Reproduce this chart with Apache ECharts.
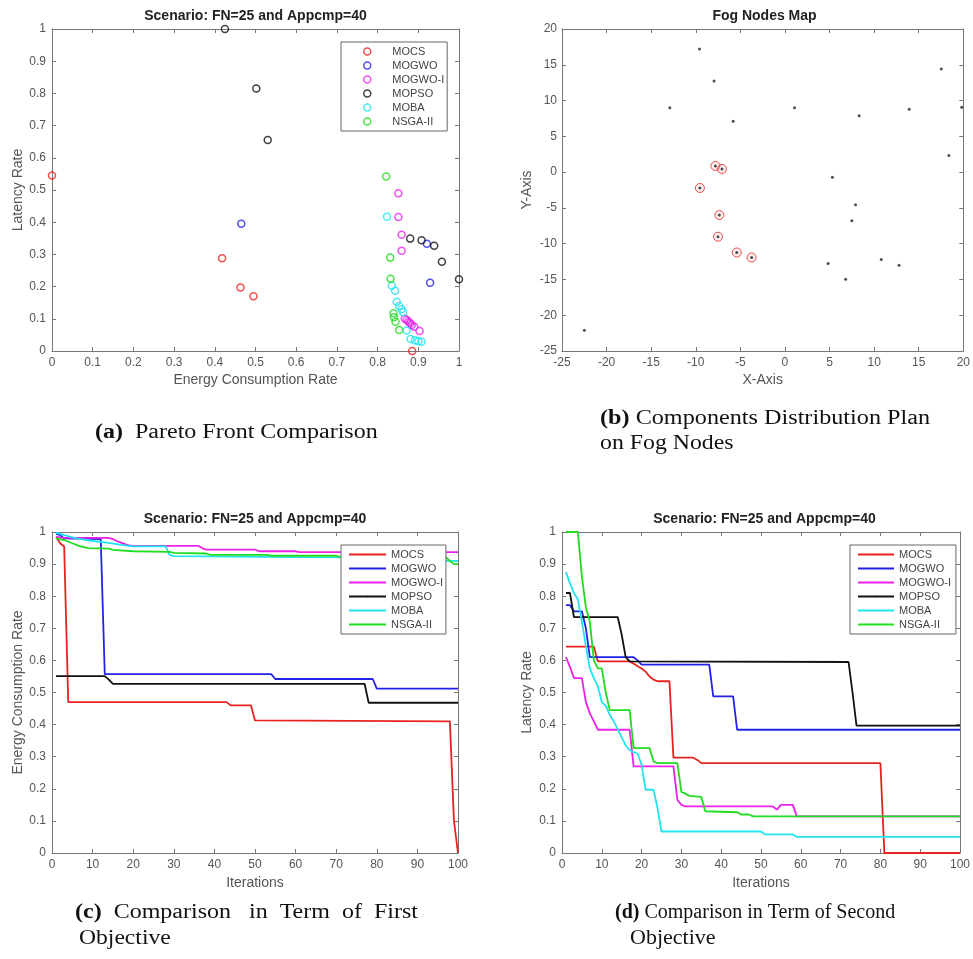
<!DOCTYPE html>
<html><head><meta charset="utf-8">
<script src="https://cdn.jsdelivr.net/npm/echarts@6/dist/echarts.min.js"></script>
<style>html,body{margin:0;padding:0;background:#fff}#c{width:973px;height:959px}</style>
</head><body><div id="c"></div>
<script>
// ---------- data ----------
const algorithms = ['MOCS', 'MOGWO', 'MOGWO-I', 'MOPSO', 'MOBA', 'NSGA-II'];
const algColors = ['#e8231f', '#2323e8', '#ec22ec', '#111111', '#22e4ee', '#22dc22'];

// (a) Pareto fronts: [energy consumption rate, latency rate]
const paretoMOCS = [[0, 0.545], [0.418, 0.288], [0.463, 0.197], [0.495, 0.170], [0.885, 0.0]];
const paretoMOGWO = [[0.465, 0.395], [0.921, 0.333], [0.929, 0.212]];
const paretoMOGWOI = [[0.851, 0.490], [0.851, 0.416], [0.859, 0.361], [0.859, 0.311], [0.867, 0.100], [0.872, 0.096],
  [0.876, 0.091], [0.880, 0.086], [0.884, 0.081], [0.890, 0.075], [0.903, 0.062]];
const paretoMOPSO = [[0.425, 1.0], [0.502, 0.815], [0.530, 0.655], [0.880, 0.349], [0.908, 0.344], [0.939, 0.327],
  [0.958, 0.277], [1.0, 0.223]];
const paretoMOBA = [[0.823, 0.417], [0.835, 0.203], [0.843, 0.187], [0.847, 0.153], [0.853, 0.140], [0.859, 0.130],
  [0.863, 0.120], [0.871, 0.064], [0.881, 0.037], [0.892, 0.033], [0.900, 0.030], [0.908, 0.029]];
const paretoNSGA = [[0.821, 0.542], [0.831, 0.290], [0.832, 0.224], [0.839, 0.117], [0.840, 0.105], [0.844, 0.091], [0.853, 0.065]];

// (b) fog nodes map
const fogX = [-9.58, -7.95, -12.91, -5.81, 1.07, 8.32, 13.94, 17.53, 19.82, 18.38, 5.32, 7.91, 7.50, 4.84, 6.80, 10.80, 12.79, -22.49,
  -7.80, -7.06, -9.54, -7.36, -7.51, -5.40, -3.74];
const fogY = [17.2, 12.72, 8.98, 7.12, 8.98, 7.86, 8.80, 14.40, 9.08, 2.31, -0.73, -4.55, -6.79, -12.77, -14.96, -12.21, -13.0, -22.1,
  0.86, 0.44, -2.22, -6.0, -9.03, -11.23, -11.93];
const placedX = [-7.80, -7.06, -9.54, -7.36, -7.51, -5.40, -3.74];
const placedY = [0.86, 0.44, -2.22, -6.0, -9.03, -11.23, -11.93];

// (c) energy consumption rate per iteration (polyline vertices [iteration, value])
const energyMOCS = [[1, 0.985], [2, 0.965], [3, 0.955], [4, 0.47], [43, 0.47], [44, 0.46], [49, 0.46], [50, 0.413], [98, 0.41], [99, 0.1], [100, 0]];
const energyMOGWO = [[1, 0.995], [2, 0.99], [3, 0.98], [12, 0.978], [13, 0.557], [54, 0.557], [55, 0.542], [79, 0.542], [80, 0.512], [100, 0.512]];
const energyMOGWOI = [[1, 0.985], [3, 0.982], [14, 0.982], [15, 0.978], [16, 0.972], [17, 0.967], [18, 0.962], [19, 0.958], [20, 0.957],
  [36, 0.957], [37, 0.95], [38, 0.945], [50, 0.945], [51, 0.94], [60, 0.94], [61, 0.937], [100, 0.937]];
const energyMOPSO = [[1, 0.551], [13, 0.551], [14, 0.54], [15, 0.527], [77, 0.527], [78, 0.468], [100, 0.468]];
const energyMOBA = [[1, 0.998], [3, 0.99], [6, 0.98], [10, 0.972], [14, 0.966], [17, 0.96], [20, 0.955], [28, 0.955], [29, 0.928],
  [30, 0.925], [60, 0.922], [96, 0.92], [97, 0.91], [100, 0.91]];
const energyNSGA = [[1, 0.98], [3, 0.975], [5, 0.965], [7, 0.955], [9, 0.95], [14, 0.948], [15, 0.944], [20, 0.94], [29, 0.938],
  [30, 0.935], [38, 0.933], [39, 0.929], [53, 0.929], [54, 0.926], [70, 0.926], [71, 0.922], [97, 0.922], [98, 0.91], [99, 0.9], [100, 0.9]];

// (d) latency rate per iteration (polyline vertices [iteration, value])
const latencyMOCS = [[1, 0.643], [8, 0.643], [9, 0.597], [17, 0.597], [18, 0.59], [19, 0.582], [20, 0.575], [21, 0.565], [22, 0.55],
  [23, 0.54], [24, 0.535], [27, 0.535], [28, 0.297], [33, 0.297], [34, 0.29], [35, 0.28], [80, 0.28], [81, 0], [100, 0]];
const latencyMOGWO = [[1, 0.772], [2, 0.772], [3, 0.753], [5, 0.753], [6, 0.7], [7, 0.61], [18, 0.61], [19, 0.6], [20, 0.587],
  [37, 0.587], [38, 0.488], [43, 0.488], [44, 0.384], [100, 0.384]];
const latencyMOGWOI = [[1, 0.61], [2, 0.58], [3, 0.545], [5, 0.545], [6, 0.47], [7, 0.435], [8, 0.41], [9, 0.384], [17, 0.384],
  [18, 0.27], [28, 0.27], [29, 0.165], [30, 0.15], [31, 0.145], [53, 0.145], [54, 0.135], [55, 0.15], [58, 0.15], [59, 0.114], [100, 0.114]];
const latencyMOPSO = [[1, 0.81], [2, 0.81], [3, 0.735], [14, 0.735], [15, 0.68], [16, 0.61], [17, 0.597], [72, 0.595], [73, 0.5],
  [74, 0.397], [100, 0.397]];
const latencyMOBA = [[1, 0.875], [2, 0.84], [3, 0.81], [4, 0.79], [5, 0.72], [6, 0.645], [7, 0.575], [8, 0.545], [9, 0.52], [10, 0.47],
  [11, 0.458], [12, 0.43], [13, 0.41], [14, 0.385], [15, 0.36], [16, 0.335], [17, 0.32], [18, 0.314], [19, 0.31], [20, 0.275],
  [21, 0.197], [23, 0.197], [24, 0.14], [25, 0.067], [50, 0.067], [51, 0.058], [58, 0.058], [59, 0.05], [100, 0.05]];
const latencyNSGA = [[1, 1], [4, 1], [5, 0.86], [6, 0.765], [7, 0.72], [8, 0.6], [9, 0.575], [10, 0.575], [11, 0.5], [12, 0.445],
  [17, 0.445], [18, 0.327], [22, 0.327], [23, 0.285], [24, 0.28], [29, 0.28], [30, 0.19], [31, 0.185], [32, 0.178], [35, 0.175],
  [36, 0.13], [44, 0.127], [45, 0.12], [47, 0.12], [48, 0.114], [100, 0.114]];

// axis ranges [min, max, interval]
const rateRange = [0, 1, 0.1];
const mapRange = [-25, 20, 5];
const iterRange = [0, 100, 10];

// ---------- chart ----------
const FONT = '"Liberation Sans", Arial, Helvetica, sans-serif';
const SERIF = '"Liberation Serif", "Times New Roman", serif';
const AX = '#777';

const grids = [
  { left: 52, top: 29, width: 407, height: 322 },
  { left: 562, top: 29, width: 405, height: 322 },
  { left: 52, top: 532, width: 406, height: 321 },
  { left: 562, top: 532, width: 405, height: 321 }
];

function mainAxis(gi, r, name, gap, pos, margin) {
  return {
    type: 'value', gridIndex: gi, position: pos, min: r[0], max: r[1], interval: r[2],
    name: name, nameLocation: 'middle', nameGap: gap,
    nameTextStyle: { fontFamily: FONT, fontSize: 14, color: '#555' },
    axisLine: { show: true, onZero: false, lineStyle: { color: AX, width: 1 } },
    axisTick: { show: true, inside: true, length: 4, lineStyle: { color: AX } },
    axisLabel: { show: true, margin: margin, fontFamily: FONT, fontSize: 12, color: '#555' },
    splitLine: { show: false }
  };
}
function mirrorAxis(gi, r, pos) {
  return {
    type: 'value', gridIndex: gi, position: pos, min: r[0], max: r[1], interval: r[2],
    axisLine: { show: true, onZero: false, lineStyle: { color: AX, width: 1 } },
    axisTick: { show: true, inside: true, length: 4, lineStyle: { color: AX } },
    axisLabel: { show: false }, splitLine: { show: false }
  };
}

const xAxes = [
  mainAxis(0, rateRange, 'Energy Consumption Rate', 22, 'bottom', 6),
  mainAxis(1, mapRange, 'X-Axis', 22, 'bottom', 6),
  mainAxis(2, iterRange, 'Iterations', 23, 'bottom', 6),
  mainAxis(3, iterRange, 'Iterations', 23, 'bottom', 6),
  mirrorAxis(0, rateRange, 'top'), mirrorAxis(1, mapRange, 'top'),
  mirrorAxis(2, iterRange, 'top'), mirrorAxis(3, iterRange, 'top')
];
const yAxes = [
  mainAxis(0, rateRange, 'Latency Rate', 27, 'left', 6),
  mainAxis(1, mapRange, 'Y-Axis', 28, 'left', 5),
  mainAxis(2, rateRange, 'Energy Consumption Rate', 27, 'left', 6),
  mainAxis(3, rateRange, 'Latency Rate', 28, 'left', 6),
  mirrorAxis(0, rateRange, 'right'), mirrorAxis(1, mapRange, 'right'),
  mirrorAxis(2, rateRange, 'right'), mirrorAxis(3, rateRange, 'right')
];

const paretoData = [paretoMOCS, paretoMOGWO, paretoMOGWOI, paretoMOPSO, paretoMOBA, paretoNSGA];
const energyData = [energyMOCS, energyMOGWO, energyMOGWOI, energyMOPSO, energyMOBA, energyNSGA];
const latencyData = [latencyMOCS, latencyMOGWO, latencyMOGWOI, latencyMOPSO, latencyMOBA, latencyNSGA];

const series = [];
algorithms.forEach((n, i) => {
  series.push({
    type: 'scatter', name: n, xAxisIndex: 0, yAxisIndex: 0, data: paretoData[i],
    symbol: 'circle', symbolSize: 7, clip: false, silent: true,
    itemStyle: { color: 'rgba(255,255,255,0)', borderColor: algColors[i], borderWidth: 1.5 }
  });
});
series.push({
  type: 'scatter', name: 'Placed components', xAxisIndex: 1, yAxisIndex: 1,
  data: placedX.map((x, i) => [x, placedY[i]]), symbol: 'circle', symbolSize: 9, clip: false, silent: true,
  itemStyle: { color: 'rgba(255,60,60,0.10)', borderColor: '#e02424', borderWidth: 1 }
});
series.push({
  type: 'scatter', name: 'Fog nodes', xAxisIndex: 1, yAxisIndex: 1,
  data: fogX.map((x, i) => [x, fogY[i]]), symbol: 'circle', symbolSize: 3, clip: false, silent: true,
  itemStyle: { color: '#222' }
});
algorithms.forEach((n, i) => {
  series.push({
    type: 'line', name: n + ' ', xAxisIndex: 2, yAxisIndex: 2, data: energyData[i],
    symbol: 'none', clip: false, silent: true, lineStyle: { color: algColors[i], width: 1.8 }, itemStyle: { color: algColors[i] }
  });
});
algorithms.forEach((n, i) => {
  series.push({
    type: 'line', name: n + '  ', xAxisIndex: 3, yAxisIndex: 3, data: latencyData[i],
    symbol: 'none', clip: false, silent: true, lineStyle: { color: algColors[i], width: 1.8 }, itemStyle: { color: algColors[i] }
  });
});

function legendBox(names, left, top, itemWidth, itemHeight, padding, extra) {
  return Object.assign({
    orient: 'vertical', left: left, top: top, data: names, itemWidth: itemWidth, itemHeight: itemHeight, itemGap: 3,
    padding: padding, backgroundColor: '#fff', borderColor: '#666', borderWidth: 1, borderRadius: 0,
    selectedMode: false, formatter: (n) => n.trim(),
    textStyle: { fontFamily: FONT, fontSize: 11, color: '#444' }
  }, extra || {});
}
const legends = [
  legendBox(algorithms, 341, 42, 40, 7, [4, 3, 4, 22], { itemStyle: { borderWidth: 1.5 } }),
  legendBox(algorithms.map(n => n + ' '), 341, 545, 37, 2, [4, 3, 4, 7]),
  legendBox(algorithms.map(n => n + '  '), 850, 545, 36, 2, [4, 5, 4, 7])
];

function titleText(text, x, y) {
  return { type: 'text', x: x, y: y, silent: true,
    style: { text: text, font: 'bold 14px ' + FONT, fill: '#222', align: 'center', verticalAlign: 'middle' } };
}
const capRich = {
  b: { fontWeight: 'bold', fontSize: 20, fontFamily: SERIF, fill: '#111' },
  n: { fontSize: 20, fontFamily: SERIF, fill: '#111' }
};
function caption(text, x, y, sx) {
  return { type: 'text', x: x, y: y, scaleX: sx, silent: true,
    style: { text: text, rich: capRich, fontSize: 20, fontFamily: SERIF, fill: '#111', x: 0, y: 0, align: 'left', verticalAlign: 'middle' } };
}

const graphics = [
  titleText('Scenario: FN=25 and Appcmp=40', 255.5, 16),
  titleText('Fog Nodes Map', 764.5, 16),
  titleText('Scenario: FN=25 and Appcmp=40', 255, 519),
  titleText('Scenario: FN=25 and Appcmp=40', 764.5, 519),
  caption('{b|(a)}{n|  Pareto Front Comparison}', 95, 433, 1.2),
  caption('{b|(b)}{n| Components Distribution Plan}', 600, 419, 1.21),
  caption('{n|on Fog Nodes}', 600, 444, 1.19),
  caption('{b|(c)}{n|  Comparison   in  Term  of  First}', 75, 913, 1.2),
  caption('{n|Objective}', 79, 939, 1.18),
  caption('{b|(d)}{n| Comparison in Term of Second}', 615, 913, 1.0),
  caption('{n|Objective}', 630, 939, 1.1)
];

const chart = echarts.init(document.getElementById('c'), null, { renderer: 'canvas' });
chart.setOption({
  backgroundColor: '#fff',
  animation: false,
  grid: grids,
  xAxis: xAxes,
  yAxis: yAxes,
  legend: legends,
  series: series,
  graphic: graphics
});
</script>
</body></html>
